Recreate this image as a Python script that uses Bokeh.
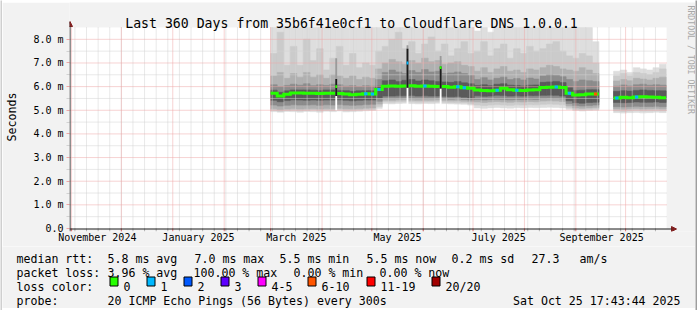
import pandas as pd
from bokeh.plotting import figure
from bokeh.models import Range1d, FixedTicker, Label, Arrow, NormalHead
from bokeh.layouts import row, column
from bokeh.core.properties import value
from bokeh.embed import file_html
from bokeh.resources import INLINE

# ---------------- data ----------------
title = "Last 360 Days from 35b6f41e0cf1 to Cloudflare DNS 1.0.0.1"
end_time = "2025-10-25 17:43:44"
span_days = 360
y_top = 8.5

y_ticks = [0, 1, 2, 3, 4, 5, 6, 7, 8]
y_tick_labels = ["0.0", "1.0 m", "2.0 m", "3.0 m", "4.0 m", "5.0 m", "6.0 m", "7.0 m", "8.0 m"]
y_minor = [0.5, 1.5, 2.5, 3.5, 4.5, 5.5, 6.5, 7.5]

month_label_text = ["November 2024", "January 2025", "March 2025",
                    "May 2025", "July 2025", "September 2025"]
month_label_at = ["2024-11-16 12:00", "2025-01-16 12:00", "2025-03-16 12:00",
                  "2025-05-16 12:00", "2025-07-16 12:00", "2025-09-16 12:00"]

# consolidated bins (two data segments, gap in between)
seg_starts = ["2025-03-01 00:00", "2025-09-23 18:00"]
seg_bins = [50, 8]
bin_hours = 95

median = [5.72, 5.60, 5.68, 5.73, 5.73, 5.72, 5.72, 5.71, 5.72, 5.72, 5.71, 5.69, 5.66, 5.68, 5.70, 5.69,
          5.88,
          6.02, 6.03, 6.02, 6.03, 6.04, 6.02, 6.03, 6.02, 6.01, 6.00, 5.97, 5.99, 5.95, 5.93,
          5.86, 5.84, 5.82, 5.85, 5.93, 5.87, 5.85, 5.84, 5.86, 5.87,
          5.96, 5.97, 5.98, 5.96,
          5.72,
          5.65, 5.66, 5.69, 5.69,
          5.52, 5.55, 5.53, 5.56, 5.57, 5.56, 5.55, 5.53]
loss = [0, 0, 0, 0, 0, 0, 0, 0, 0, 0,
        0, 0, 0, 0, 1, 1, 1, 0, 0, 0,
        0, 0, 0, 1, 0, 0, 0, 0, 1, 1,
        0, 0, 0, 0, 1, 0, 0, 1, 0, 0,
        0, 0, 0, 1, 0, 1, 0, 0, 0, 5,
        1, 0, 0, 1, 0, 0, 0, 0]

lo0 = [4.94, 4.92, 4.95, 4.94, 4.92, 4.95, 4.94, 4.92, 4.96, 4.94, 4.97, 4.93, 4.94, 4.96, 4.98, 4.99,
       5.08,
       5.28, 5.27, 5.29, 5.30, 5.28, 5.27, 5.29, 5.28, 5.30, 5.28, 5.27, 5.26, 5.25, 5.22,
       5.10, 5.08, 5.10, 5.12, 5.10, 5.09, 5.11, 5.10, 5.12, 5.11,
       5.12, 5.13, 5.12, 5.10,
       5.04,
       4.99, 4.97, 4.99, 5.00,
       4.90, 4.88, 4.90, 4.91, 4.89, 4.90, 4.92, 4.90]
lo1 = [4.99, 4.96, 4.99, 5.00, 4.98, 4.99, 5.01, 4.98, 5.00, 4.99, 5.02, 4.99, 5.00, 5.01, 5.03, 5.04,
       5.16,
       5.35, 5.34, 5.36, 5.36, 5.35, 5.34, 5.35, 5.35, 5.36, 5.34, 5.33, 5.32, 5.31, 5.28,
       5.22, 5.20, 5.22, 5.24, 5.22, 5.21, 5.23, 5.22, 5.24, 5.23,
       5.25, 5.26, 5.25, 5.23,
       5.10,
       5.04, 5.02, 5.04, 5.05,
       4.97, 4.95, 4.97, 4.99, 4.97, 4.98, 4.99, 4.97]
lo2 = [5.06, 5.03, 5.05, 5.07, 5.05, 5.06, 5.07, 5.05, 5.07, 5.06, 5.08, 5.06, 5.06, 5.07, 5.09, 5.10,
       5.26,
       5.42, 5.41, 5.43, 5.43, 5.42, 5.41, 5.42, 5.42, 5.43, 5.41, 5.40, 5.40, 5.38, 5.36,
       5.35, 5.33, 5.35, 5.37, 5.35, 5.34, 5.36, 5.35, 5.37, 5.36,
       5.39, 5.40, 5.39, 5.37,
       5.18,
       5.10, 5.08, 5.10, 5.12,
       5.05, 5.04, 5.05, 5.07, 5.05, 5.06, 5.07, 5.05]
lo3 = [5.22, 5.18, 5.21, 5.23, 5.22, 5.22, 5.23, 5.21, 5.23, 5.22, 5.24, 5.22, 5.21, 5.22, 5.24, 5.25,
       5.38,
       5.50, 5.49, 5.50, 5.51, 5.50, 5.49, 5.50, 5.50, 5.51, 5.49, 5.47, 5.48, 5.46, 5.43,
       5.45, 5.43, 5.45, 5.47, 5.45, 5.44, 5.46, 5.45, 5.47, 5.46,
       5.50, 5.51, 5.50, 5.48,
       5.28,
       5.20, 5.18, 5.20, 5.22,
       5.15, 5.14, 5.15, 5.17, 5.16, 5.16, 5.17, 5.15]
lo4 = [5.42, 5.36, 5.41, 5.44, 5.43, 5.42, 5.43, 5.42, 5.43, 5.43, 5.44, 5.42, 5.40, 5.42, 5.43, 5.43,
       5.52,
       5.60, 5.60, 5.61, 5.61, 5.62, 5.60, 5.61, 5.60, 5.60, 5.59, 5.57, 5.58, 5.55, 5.52,
       5.61, 5.59, 5.60, 5.63, 5.62, 5.60, 5.61, 5.60, 5.62, 5.62,
       5.63, 5.64, 5.63, 5.60,
       5.40,
       5.32, 5.30, 5.33, 5.34,
       5.33, 5.32, 5.33, 5.35, 5.34, 5.34, 5.35, 5.33]
hi4 = [5.85, 5.76, 5.82, 5.86, 5.86, 5.86, 5.85, 5.84, 5.86, 5.86, 5.84, 5.83, 5.80, 5.82, 5.83, 5.82,
       6.02,
       6.25, 6.28, 6.22, 6.27, 6.30, 6.24, 6.28, 6.25, 6.22, 6.20, 6.18, 6.22, 6.16, 6.12,
       6.05, 6.08, 6.04, 6.10, 6.12, 6.06, 6.05, 6.03, 6.06, 6.07,
       6.18, 6.20, 6.22, 6.17,
       5.95,
       5.84, 5.85, 5.87, 5.87,
       5.80, 5.83, 5.81, 5.84, 5.86, 5.84, 5.83, 5.82]
hi3 = [6.08, 6.00, 6.05, 6.10, 6.06, 6.12, 6.04, 6.08, 6.05, 6.10, 6.08, 6.02, 6.04, 6.00, 6.04, 6.02,
       6.30,
       6.60, 6.70, 6.62, 6.55, 6.68, 6.60, 6.72, 6.62, 6.65, 6.55, 6.58, 6.62, 6.55, 6.48,
       6.30, 6.38, 6.28, 6.35, 6.40, 6.30, 6.34, 6.28, 6.36, 6.32,
       6.45, 6.50, 6.48, 6.42,
       6.30,
       6.22, 6.28, 6.25, 6.22,
       6.02, 6.07, 6.03, 6.08, 6.10, 6.06, 6.08, 6.06]
hi2 = [6.45, 6.60, 6.35, 6.55, 6.40, 6.60, 6.40, 6.50, 6.35, 6.50, 6.45, 6.35, 6.45, 6.30, 6.40, 6.35,
       6.75,
       7.00, 7.15, 7.05, 6.95, 7.10, 7.00, 7.20, 7.05, 7.10, 6.95, 7.00, 7.05, 6.90, 6.85,
       6.65, 6.80, 6.60, 6.75, 6.85, 6.65, 6.70, 6.60, 6.75, 6.70,
       6.80, 6.90, 6.85, 6.75,
       6.70,
       6.65, 6.80, 6.70, 6.55,
       6.24, 6.30, 6.25, 6.35, 6.32, 6.28, 6.35, 6.40]
hi1 = [7.40, 8.30, 6.90, 7.70, 6.90, 8.00, 7.10, 7.60, 6.70, 7.20, 7.70, 6.90, 7.40, 6.80, 7.00, 6.90,
       7.50,
       7.70, 8.00, 8.30, 7.60, 7.90, 7.40, 7.80, 8.10, 7.50, 7.80, 7.30, 7.60, 7.90, 7.40,
       7.50, 7.90, 7.30, 7.60, 7.80, 7.20, 7.60, 7.40, 7.70, 7.50,
       7.60, 7.80, 7.90, 7.50,
       7.30,
       7.20, 7.40, 7.30, 7.00,
       6.45, 6.55, 6.45, 6.60, 6.55, 6.50, 6.60, 6.75]
hi0 = [8.50, 8.50, 8.50, 8.50, 8.50, 8.50, 8.50, 8.50, 8.50, 8.50, 8.50, 8.50, 8.50, 8.50, 8.50, 8.50,
       8.50,
       8.50, 8.50, 8.50, 8.50, 8.50, 8.50, 8.50, 8.50, 8.50, 8.50, 8.50, 8.50, 8.50, 8.50,
       8.35, 8.50, 8.30, 8.50, 8.50, 8.50, 8.50, 8.50, 8.50, 8.50,
       8.50, 8.50, 8.50, 8.50,
       8.50,
       8.50, 8.50, 8.50, 7.90,
       6.65, 6.70, 6.60, 6.80, 6.75, 6.70, 6.80, 6.95]

# short outlier bursts
spike_time = ["2025-04-09 13:00", "2025-05-22 12:00", "2025-06-11 12:00"]
spike_floor = [5.00, 5.25, 5.25]
spike_low = [5.60, 5.95, 5.92]
spike_high = [6.32, 7.60, 6.85]
spike_top = [7.20, 7.75, 7.30]
spike_median = [6.00, 7.00, 6.80]
spike_loss = [0, 1, 0]

loss_labels = ["0", "1", "2", "3", "4-5", "6-10", "11-19", "20/20"]
loss_colors = ["#26ff00", "#00b8ff", "#0059ff", "#5e00ff", "#ff00ff", "#ff5500", "#ff0000", "#a10000"]

rtt_title = "median rtt:"
rtt_stats = ["5.8 ms avg", "7.0 ms max", "5.5 ms min", "5.5 ms now", "0.2 ms sd", "27.3", "am/s"]
loss_title = "packet loss:"
loss_stats = ["3.96 % avg", "100.00 % max", "0.00 % min", "0.00 % now"]
color_title = "loss color:"
probe_title = "probe:"
probe_text = "20 ICMP Echo Pings (56 Bytes) every 300s"
stamp_text = "Sat Oct 25 17:43:44 2025"
y_title = "Seconds"
watermark = "RRDTOOL / TOBI OETIKER"

# ---------------- style / layout ----------------
smoke_colors = ["#dedede", "#cbcbcb", "#b0b0b0", "#8c8c8c", "#5a5a5a"]
MONO = "DejaVu Sans Mono"
BG = "#f2f2f2"
SHADE_A, SHADE_B = "#cfcfcf", "#9e9e9e"
MGRID, GRID = "#eea6a6", "#d2d2d2"

W, H = 697, 310
OX, OY = 2, 2                      # canvas offset of the main figure
FA_W, FA_H = 693, 244              # main figure (canvas y 2..246)
PL, PR, PT, PB = 66, 666, 27, 228  # plot area on the canvas
FRAME_R, FRAME_T, FRAME_B = 695, 2, 231


def ms(t):
    return pd.Timestamp(t).value / 1e6


t_end = pd.Timestamp(end_time)
t_start = t_end - pd.Timedelta(days=span_days)
ppu = (PB - PT) / y_top
px_day = (PR - PL) / span_days
x_lo = ms(t_start)
x_hi = ms(t_end + pd.Timedelta(days=(FRAME_R - PR) / px_day))
y_lo = -(FRAME_B - PB) / ppu
y_hi = (PB - FRAME_T) / ppu

pa = figure(width=FA_W, height=FA_H, output_backend="svg", toolbar_location=None, title=None,
            x_axis_type="datetime", x_range=Range1d(x_lo, x_hi), y_range=Range1d(y_lo, y_hi),
            min_border_left=PL - OX, min_border_right=0, min_border_top=0,
            min_border_bottom=OY + FA_H - FRAME_B,
            background_fill_color=BG, border_fill_color=BG, outline_line_color=None)
pa.grid.visible = False

# white canvas of the graph
pa.quad(left=[ms(t_start)], right=[ms(t_end)], bottom=[0], top=[y_top],
        fill_color="#ffffff", line_color=None)

# bins
lefts, rights = [], []
for start, n in zip(seg_starts, seg_bins):
    t0 = pd.Timestamp(start)
    for k in range(n):
        lefts.append(ms(t0 + pd.Timedelta(hours=bin_hours * k)))
        rights.append(ms(t0 + pd.Timedelta(hours=bin_hours * (k + 1))))

# smoke layers (outer -> inner)
for lo, hi, col in zip([lo0, lo1, lo2, lo3, lo4], [hi0, hi1, hi2, hi3, hi4], smoke_colors):
    pa.quad(left=lefts, right=rights, bottom=lo, top=hi, fill_color=col,
            line_color=col, line_width=0.6)

# grid (drawn over the smoke, like rrdtool)
month_ms = [ms(t) for t in pd.date_range("2024-11-01", "2025-10-01", freq="MS")]
sunday_ms = [ms(t) for t in pd.date_range("2024-11-03", "2025-10-19", freq="7D")]
pa.segment(x0=sunday_ms, x1=sunday_ms, y0=[0] * len(sunday_ms), y1=[y_top] * len(sunday_ms),
           line_color=GRID, line_dash="1 1", line_width=1)
pa.segment(x0=[ms(t_start)] * len(y_minor), x1=[ms(t_end)] * len(y_minor), y0=y_minor, y1=y_minor,
           line_color=GRID, line_dash="1 1", line_width=1)
pa.segment(x0=month_ms, x1=month_ms, y0=[0] * len(month_ms), y1=[y_top] * len(month_ms),
           line_color=MGRID, line_dash="1 1", line_width=1)
pa.segment(x0=[ms(t_start)] * (len(y_ticks) - 1), x1=[ms(t_end)] * (len(y_ticks) - 1),
           y0=y_ticks[1:], y1=y_ticks[1:], line_color=MGRID, line_dash="1 1", line_width=1)
# small ticks under the time axis
pa.segment(x0=sunday_ms, x1=sunday_ms, y0=[0] * len(sunday_ms), y1=[y_lo] * len(sunday_ms),
           line_color="#b0b0b0", line_width=1)
pa.segment(x0=month_ms, x1=month_ms, y0=[0] * len(month_ms), y1=[y_lo] * len(month_ms),
           line_color="#de6a6a", line_width=1)

# median line per segment
i0 = 0
for n in seg_bins:
    xs, ys = [], []
    for i in range(i0, i0 + n):
        xs += [lefts[i], rights[i]]
        ys += [median[i], median[i]]
    pa.line(xs, ys, line_color=loss_colors[0], line_width=3, line_join="miter")
    i0 += n

# loss coloured median marks
day = 86400000.0
lx0, lx1, ly, lc = [], [], [], []
for i, lv in enumerate(loss):
    if lv > 0:
        c = 0.5 * (lefts[i] + rights[i])
        lx0.append(c - 1.0 * day)
        lx1.append(c + 1.0 * day)
        ly.append(median[i])
        lc.append(loss_colors[lv])
pa.segment(x0=lx0, y0=ly, x1=lx1, y1=ly, line_color=lc, line_width=3)

# spikes
sw = 0.55 * day
sx = [ms(t) for t in spike_time]
sl = [x - sw for x in sx]
sr = [x + sw for x in sx]
pa.quad(left=sl, right=sr, bottom=spike_low, top=spike_top, fill_color="#9a9a9a", line_color=None)
pa.quad(left=sl, right=sr, bottom=spike_floor, top=spike_low, fill_color="#ffffff", line_color=None)
pa.quad(left=sl, right=sr, bottom=spike_low, top=spike_high, fill_color="#1c1c1c", line_color=None)
pa.quad(left=sl, right=sr, bottom=[m - 0.06 for m in spike_median], top=[m + 0.06 for m in spike_median],
        fill_color=[loss_colors[v] for v in spike_loss], line_color=None)

# ---------------- axes ----------------
label_ms = [ms(t) for t in month_label_at]
xa = pa.xaxis[0]
xa.ticker = FixedTicker(ticks=label_ms)
xa.major_label_overrides = {k: v for k, v in zip(label_ms, month_label_text)}
xa.axis_line_color = None
xa.major_tick_line_color = None
xa.minor_tick_line_color = None
xa.major_tick_out = 0
xa.major_tick_in = 0
xa.major_label_standoff = 0
xa.major_label_text_font = MONO
xa.major_label_text_font_size = "10px"
xa.major_label_text_color = "black"

ya = pa.yaxis[0]
ya.ticker = FixedTicker(ticks=y_ticks, minor_ticks=y_minor)
ya.major_label_overrides = {k: v for k, v in zip(y_ticks, y_tick_labels)}
ya.axis_line_color = None
ya.major_tick_line_color = MGRID
ya.major_tick_in = 0
ya.major_tick_out = 3
ya.minor_tick_line_color = GRID
ya.minor_tick_in = 0
ya.minor_tick_out = 3
ya.major_label_standoff = 3
ya.major_label_text_font = MONO
ya.major_label_text_font_size = "10px"
ya.major_label_text_color = "black"
ya.axis_label = y_title
ya.axis_label_text_font = MONO
ya.axis_label_text_font_size = "11.6px"
ya.axis_label_text_font_style = "normal"
ya.axis_label_text_color = "black"
ya.axis_label_standoff = 11

# axis lines with arrow heads (screen units, relative to the frame)
pa.add_layout(Arrow(x_start=0, y_start=FRAME_B - PB - 0.5, x_end=673 - PL, y_end=FRAME_B - PB - 0.5,
                    start_units="screen", end_units="screen", line_color="#1f1f1f", line_width=1,
                    end=NormalHead(size=5, fill_color="#801f1f", line_color="#801f1f", line_width=1)))
pa.add_layout(Arrow(x_start=0.5, y_start=0, x_end=0.5, y_end=FRAME_B - 21,
                    start_units="screen", end_units="screen", line_color="#1f1f1f", line_width=1,
                    end=NormalHead(size=5, fill_color="#801f1f", line_color="#801f1f", line_width=1)))


def put(text, x, y, size, color="black", align="left", baseline="alphabetic", angle=0.0):
    pa.add_layout(Label(x=x - PL, y=FRAME_B - y, x_units="screen", y_units="screen", text=text,
                        text_font=MONO, text_font_size=size, text_color=color,
                        text_align=align, text_baseline=baseline, angle=angle))


put(title, 348, 23, "13.2px", align="center")
put(watermark, 687, 5, "8.2px", color="#a8a8a8", align="left", baseline="middle", angle=-1.5707963)

# ---------------- legend figure (canvas y 246..308) ----------------
pb = figure(width=693, height=62, output_backend="svg", toolbar_location=None, title=None,
            x_axis_location=None, y_axis_location=None, min_border=0,
            x_range=Range1d(2, 695), y_range=Range1d(308, 246),
            background_fill_color=BG, border_fill_color=BG, outline_line_color=None)
pb.grid.visible = False

txt, tx, ty = [], [], []


def add(t, x, y):
    txt.append(t)
    tx.append(x)
    ty.append(y)


add(rtt_title, 16, 258)
for t, x in zip(rtt_stats, [107, 194, 279, 366, 451, 531, 579]):
    add(t, x, 258)
add(loss_title, 16, 272)
for t, x in zip(loss_stats, [107, 193, 293, 379]):
    add(t, x, 272)
add(color_title, 16, 286)
sq_x = [109, 146, 183, 220, 257, 307, 366, 431]
for lab, x in zip(loss_labels, sq_x):
    add(lab, x + 14, 286)
add(probe_title, 16, 300)
add(probe_text, 107, 300)
pb.text(x=tx, y=ty, text=txt, text_font=value(MONO), text_font_size=value("11.6px"),
        text_color="black", text_align="left", text_baseline="alphabetic")
pb.text(x=[680], y=[300], text=[stamp_text], text_font=value(MONO), text_font_size=value("11.6px"),
        text_color="black", text_align="right", text_baseline="alphabetic")
pb.quad(left=[x + 0.5 for x in sq_x], right=[x + 8.5 for x in sq_x],
        top=[276.5] * len(sq_x), bottom=[285.5] * len(sq_x),
        fill_color=loss_colors, line_color="black", line_width=1)


# ---------------- 3d border strips ----------------
def strip(w, h, color):
    s = figure(width=w, height=h, output_backend="svg", toolbar_location=None, title=None,
               x_axis_location=None, y_axis_location=None, min_border=0,
               background_fill_color=color, border_fill_color=color, outline_line_color=None)
    s.grid.visible = False
    return s


# the legend figure is wrapped in its own row so that its frame is not aligned with the graph's
layout = row(strip(2, H, SHADE_A),
             column(strip(693, 2, SHADE_A), pa, row(pb), strip(693, 2, SHADE_B)),
             strip(2, H, SHADE_B))

open("out.html", "w").write(file_html(layout, INLINE))
